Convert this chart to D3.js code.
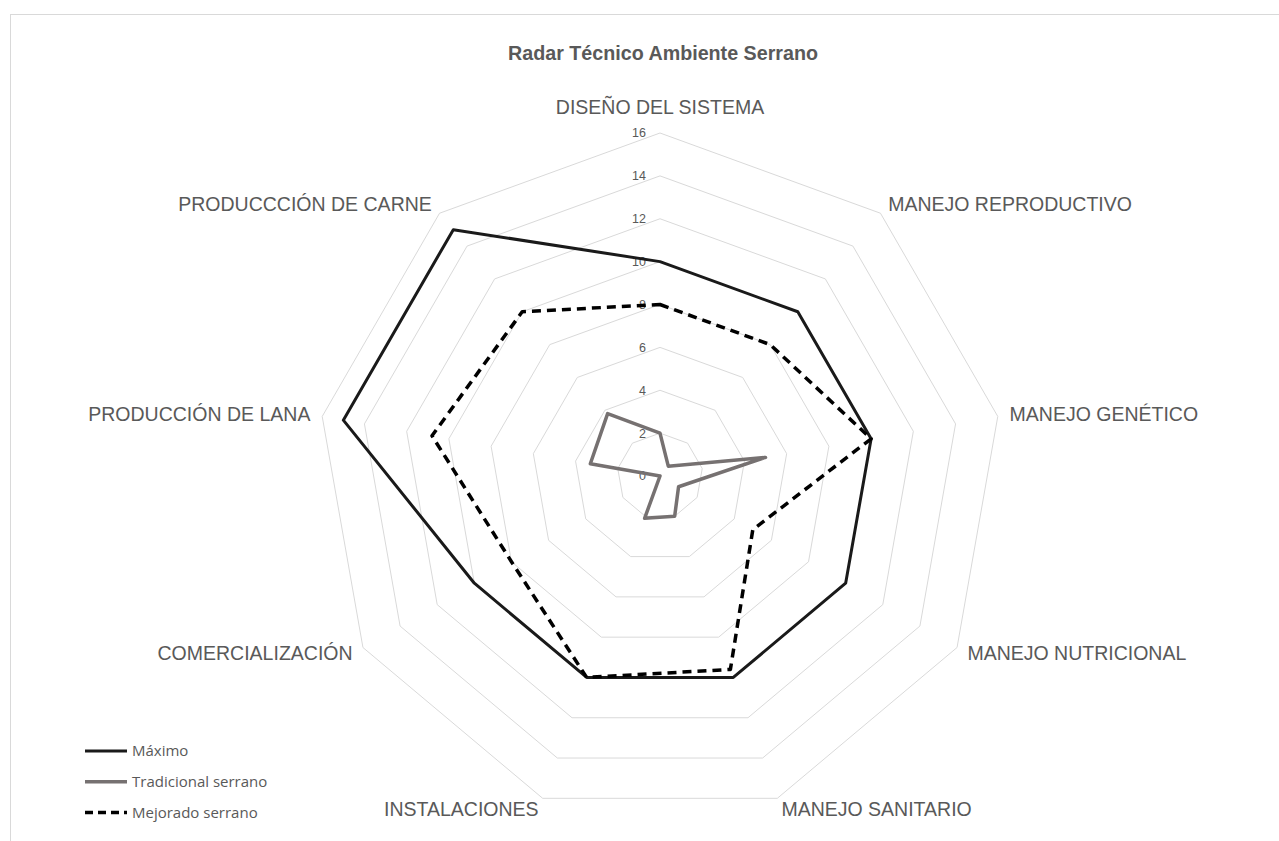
<!DOCTYPE html>
<html>
<head>
<meta charset="utf-8">
<script src="https://cdn.jsdelivr.net/npm/d3@7"></script>
<style>
  body { margin: 0; background: #fff; }
  text { font-family: "Liberation Sans", Arial, sans-serif; }
</style>
</head>
<body>
<svg id="radar" width="1279" height="841"></svg>
<script>
var categories = ['DISEÑO DEL SISTEMA', 'MANEJO REPRODUCTIVO', 'MANEJO GENÉTICO', 'MANEJO NUTRICIONAL',
    'MANEJO SANITARIO', 'INSTALACIONES', 'COMERCIALIZACIÓN', 'PRODUCCIÓN DE LANA', 'PRODUCCCIÓN DE CARNE']
var maximo = [10, 10, 10, 10, 10, 10, 10, 15, 15]
var tradicional = [2, 0.6, 5, 1, 2, 2.1, 0, 3.3, 3.8]
var mejorado = [8, 8, 10, 5, 9.6, 10, 8, 10.8, 10]
var tickValues = [0, 2, 4, 6, 8, 10, 12, 14, 16]
var seriesNames = ['Máximo', 'Tradicional serrano', 'Mejorado serrano']

var svg = d3.select('#radar')
var cx = 660, cy = 476, R = 343
var n = categories.length
var rscale = d3.scaleLinear().domain([0, 16]).range([0, R])
var angle = function (i) { return i * 2 * Math.PI / n }

// chart frame
svg.append('rect')
    .attr('x', 10.5).attr('y', 14.5)
    .attr('width', 1400).attr('height', 1000)
    .attr('fill', 'none').attr('stroke', '#d9d9d9')

svg.append('text')
    .attr('x', 663).attr('y', 60)
    .attr('text-anchor', 'middle')
    .attr('font-size', '19.7px').attr('font-weight', 'bold')
    .attr('fill', '#595959')
    .text('Radar Técnico Ambiente Serrano')

var g = svg.append('g').attr('transform', 'translate(' + cx + ',' + cy + ')')

// grid polygons
var gridLine = d3.lineRadial()
    .angle(function (d, i) { return angle(i) })
    .radius(function (d) { return rscale(d) })
    .curve(d3.curveLinearClosed)

g.append('g').selectAll('path')
    .data(tickValues.filter(function (t) { return t > 0 }))
    .enter()
    .append('path')
    .attr('d', function (t) { return gridLine(categories.map(function () { return t })) })
    .attr('fill', 'none')
    .attr('stroke', '#d9d9d9')
    .attr('stroke-width', 1)

// tick labels
g.append('g').selectAll('text')
    .data(tickValues)
    .enter()
    .append('text')
    .attr('x', -14)
    .attr('y', function (t) { return -rscale(t) })
    .attr('dy', '0.35em')
    .attr('text-anchor', 'end')
    .attr('font-size', '12.5px')
    .attr('fill', '#595959')
    .text(function (t) { return t })

// category labels
g.append('g').selectAll('text')
    .data(categories)
    .enter()
    .append('text')
    .attr('x', function (d, i) { return (R + 12) * Math.sin(angle(i)) })
    .attr('y', function (d, i) {
        if (i === 0) return -R - 19
        return -(R + 12) * Math.cos(angle(i))
    })
    .attr('dy', function (d, i) { return i === 0 ? 0 : '0.35em' })
    .attr('text-anchor', function (d, i) {
        var s = Math.sin(angle(i))
        if (Math.abs(s) < 0.01) return 'middle'
        return s > 0 ? 'start' : 'end'
    })
    .attr('font-size', '19.5px')
    .attr('fill', '#595959')
    .text(function (d) { return d })

// series
var styles = [
    { color: '#1a1a1a', width: 3, dash: null },
    { color: '#767171', width: 3.5, dash: null },
    { color: '#000000', width: 3.5, dash: '9,6' }
]
var seriesData = [maximo, tradicional, mejorado]
var valueLine = d3.lineRadial()
    .angle(function (d, i) { return angle(i) })
    .radius(function (d) { return rscale(d) })
    .curve(d3.curveLinearClosed)

g.append('g').selectAll('path')
    .data(seriesData)
    .enter()
    .append('path')
    .attr('d', valueLine)
    .attr('fill', 'none')
    .attr('stroke', function (d, i) { return styles[i].color })
    .attr('stroke-width', function (d, i) { return styles[i].width })
    .attr('stroke-dasharray', function (d, i) { return styles[i].dash })
    .attr('stroke-linejoin', 'round')

// legend
var legend = svg.append('g').attr('transform', 'translate(85,751)')
var items = legend.selectAll('g')
    .data(seriesNames)
    .enter()
    .append('g')
    .attr('transform', function (d, i) { return 'translate(0,' + i * 30.7 + ')' })
items.append('line')
    .attr('x1', 0).attr('x2', 42)
    .attr('stroke', function (d, i) { return styles[i].color })
    .attr('stroke-width', function (d, i) { return styles[i].width })
    .attr('stroke-dasharray', function (d, i) { return styles[i].dash ? '8,5' : null })
items.append('text')
    .attr('x', 47)
    .attr('dy', '0.35em')
    .attr('font-size', '15px')
    .style('font-family', '"Open Sans", sans-serif')
    .attr('fill', '#595959')
    .text(function (d) { return d })
</script>
</body>
</html>
